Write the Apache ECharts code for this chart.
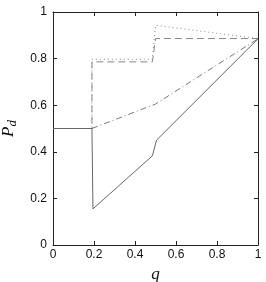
<!DOCTYPE html>
<html><head><meta charset="utf-8">
<script src="https://cdn.jsdelivr.net/npm/echarts@6/dist/echarts.min.js"></script>
<style>html,body{margin:0;padding:0;background:#fff}#c{width:266px;height:282px}</style>
</head><body><div id="c"></div>
<script>
// Data (q, P_d)
const solidQ = [0, 0.19, 0.195, 0.485, 0.505, 1];
const solidP = [0.5, 0.5, 0.155, 0.383, 0.45, 0.885];
const dashDotQ = [0, 0.19, 0.5, 1];
const dashDotP = [0.5, 0.5, 0.605, 0.885];
const dashedQ = [0, 0.19, 0.19, 0.485, 0.5, 1];
const dashedP = [0.5, 0.5, 0.786, 0.786, 0.886, 0.886];
const dottedQ = [0, 0.19, 0.19, 0.485, 0.5, 1];
const dottedP = [0.5, 0.5, 0.797, 0.797, 0.943, 0.886];
const xTicks = [0, 0.2, 0.4, 0.6, 0.8, 1];
const yTicks = [0, 0.2, 0.4, 0.6, 0.8, 1];

const pairs = (xs, ys) => xs.map((x, i) => [x, ys[i]]);
const chart = echarts.init(document.getElementById('c'), null, {renderer: 'canvas'});
const axisLine = {show: true, onZero: false, lineStyle: {color: '#222', width: 1}};
const tick = {show: true, inside: true, length: 4, lineStyle: {color: '#222'}};
const lbl = {color: '#111', fontSize: 12, fontFamily: 'Liberation Sans, Arial'};
const mk = (name, q, p, color, type) => ({
  name, type: 'line', data: pairs(q, p), symbol: 'none', animation: false,
  lineStyle: {color, width: 1, type}
});
chart.setOption({
  animation: false,
  grid: {left: 53, right: 8, top: 12, bottom: 37, containLabel: false, outerBoundsMode: 'none'},
  xAxis: [{
    type: 'value', min: 0, max: 1, interval: 0.2, position: 'bottom',
    axisLine, axisTick: tick, splitLine: {show: false},
    axisLabel: Object.assign({margin: 4}, lbl),
    name: 'q', nameLocation: 'middle', nameGap: 15,
    nameTextStyle: {fontFamily: 'Liberation Serif', fontStyle: 'italic', fontSize: 17, color: '#111'}
  }, {
    type: 'value', min: 0, max: 1, interval: 0.2, position: 'top',
    axisLine, axisTick: tick, axisLabel: {show: false}, splitLine: {show: false}
  }],
  yAxis: [{
    type: 'value', min: 0, max: 1, interval: 0.2, position: 'left',
    axisLine, axisTick: tick, splitLine: {show: false},
    axisLabel: Object.assign({margin: 6}, lbl),
    name: '{p|P}{d|d}', nameLocation: 'middle', nameGap: 32, nameRotate: 90,
    nameTextStyle: {
      rich: {
        p: {fontFamily: 'Liberation Serif', fontStyle: 'italic', fontSize: 17, color: '#111'},
        d: {fontFamily: 'Liberation Serif', fontStyle: 'italic', fontSize: 13, color: '#111', verticalAlign: 'bottom', padding: [8, 0, 0, 0]}
      }
    }
  }, {
    type: 'value', min: 0, max: 1, interval: 0.2, position: 'right',
    axisLine, axisTick: tick, axisLabel: {show: false}, splitLine: {show: false}
  }],
  series: [
    mk('dotted', dottedQ, dottedP, '#888', [1, 3]),
    mk('dashed', dashedQ, dashedP, '#888', [7, 4]),
    mk('dashdot', dashDotQ, dashDotP, '#777', [6, 3, 1, 3]),
    mk('solid', solidQ, solidP, '#666', 'solid')
  ]
});
</script></body></html>
